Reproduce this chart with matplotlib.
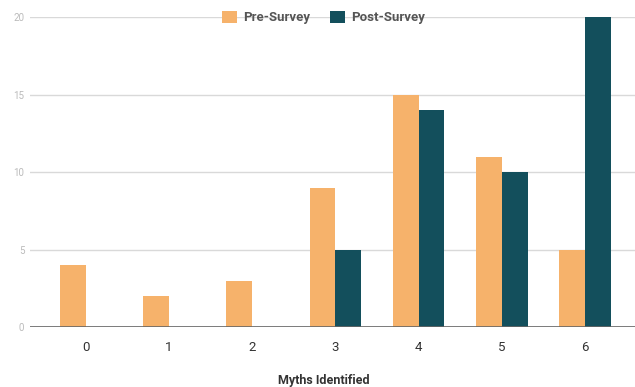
import numpy as np
import matplotlib.pyplot as plt

plt.rcParams['font.family'] = ['Roboto', 'DejaVu Sans']

categories = ['0', '1', '2', '3', '4', '5', '6']
pre_survey = [4, 2, 3, 9, 15, 11, 5]
post_survey = [0, 0, 0, 5, 14, 10, 20]

fig = plt.figure(figsize=(6.35, 3.87), dpi=100)
ax = fig.add_axes([0.047, 0.155, 0.953, 0.801])

x = np.arange(len(categories))
w = 0.31
ax.bar(x - w / 2, pre_survey, w, color='#F6B26B', label='Pre-Survey', zorder=3)
ax.bar(x + w / 2, post_survey, w, color='#134F5C', label='Post-Survey', zorder=3)

ax.set_xlim(-0.67, 6.6)
ax.set_ylim(0, 20)
ax.set_yticks([0, 5, 10, 15, 20])
ax.set_xticks(x)
ax.set_xticklabels(categories)
ax.grid(axis='y', color='#d9d9d9', linewidth=1, zorder=0)
ax.axhline(0, color='#666666', linewidth=1.2, zorder=4)
for s in ax.spines.values():
    s.set_visible(False)
ax.tick_params(axis='y', length=0, labelsize=7, labelcolor='#bbbbbb', pad=4)
ax.tick_params(axis='x', length=0, labelsize=9.5, labelcolor='#333333', pad=10)

fig.text(0.51, 0.018, 'Myths Identified', fontsize=9, color='#333333',
         fontweight='bold', ha='center', va='center')

leg = fig.legend(loc='center', bbox_to_anchor=(0.51, 0.955), ncol=2, frameon=False,
                 fontsize=9.5, handlelength=1.1, handleheight=1.1, columnspacing=1.5,
                 handletextpad=0.5, labelcolor='#555555',
                 prop={'weight': 'bold', 'size': 9.5})

fig.savefig('out.png', dpi=100)
